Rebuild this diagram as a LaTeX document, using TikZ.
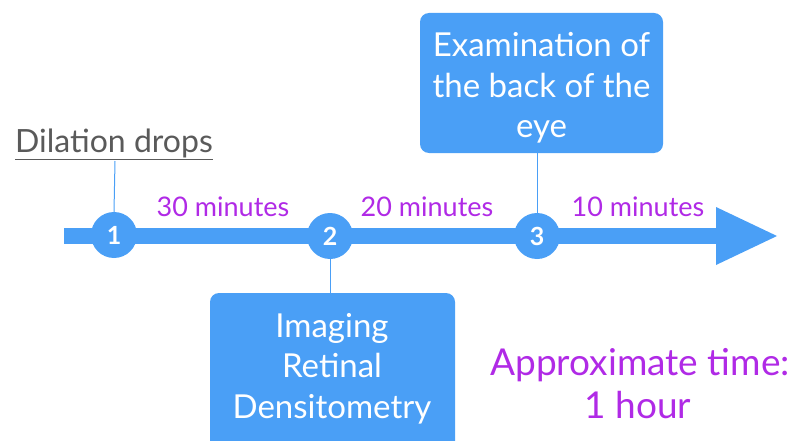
\documentclass[tikz,border=0pt]{standalone}
\usepackage{fontspec}
\setmainfont{Lato}
\definecolor{tblue}{HTML}{4A9FF6}
\definecolor{tpurple}{HTML}{B02AE6}
\definecolor{tgray}{HTML}{5A5A5A}
\tikzset{
  stepcirc/.style={circle, fill=tblue, minimum size=46pt, inner sep=0pt, text=white, font=\fontsize{25}{27}\selectfont\bfseries},
  bluebox/.style={fill=tblue, rounded corners=9pt, inner sep=0pt},
  boxtext/.style={text=white, align=center, inner sep=0pt, font=\fontsize{33}{41}\selectfont},
  durlabel/.style={text=tpurple, font=\fontsize{27}{30}\selectfont},
  link/.style={draw=tblue, line width=1pt}
}
\begin{document}
\begin{tikzpicture}[x=1pt,y=-1pt]
\useasboundingbox (0,0) rectangle (792,441);
% main arrow
\fill[tblue] (64,227.5) rectangle (722,243.5);
\fill[tblue] (716,207) -- (777,236) -- (716,265) -- cycle;
% step circles
\node[stepcirc] (c1) at (114,235) {1};
\node[stepcirc] (c2) at (330,236) {2};
\node[stepcirc] (c3) at (537,236) {3};
% dilation drops
\node[text=tgray, font=\fontsize{32}{34}\selectfont, inner sep=0pt, anchor=base] (dil) at (114,152) {\underline{Dilation drops}};
\coordinate (dilb) at (115,161);
\draw[link] (dilb) -- (c1.north);
% durations
\node[durlabel, anchor=base] (d1) at (223,216) {30 minutes};
\node[durlabel, anchor=base] (d2) at (427,216) {20 minutes};
\node[durlabel, anchor=base] (d3) at (638,216) {10 minutes};
% box 3
\node[bluebox, minimum width=243pt, minimum height=140pt] (b3) at (541.5,83) {};
\node[boxtext, anchor=base] (b3a) at (541.5,57) {Examination of};
\node[boxtext, anchor=base] (b3b) at (541.5,98) {the back of the};
\node[boxtext, anchor=base] (b3c) at (541.5,138) {eye};
\draw[link] (b3.south -| c3) -- (c3.north);
% box 2
\node[bluebox, minimum width=245pt, minimum height=160pt] (b2) at (332.5,373) {};
\node[boxtext, anchor=base] (b2a) at (332,337) {Imaging};
\node[boxtext, anchor=base] (b2b) at (332,377) {Retinal};
\node[boxtext, anchor=base] (b2c) at (332,418) {Densitometry};
\draw[link] (c2.south) -- (b2.north -| c2);
% approximate time
\node[text=tpurple, font=\fontsize{37}{42}\selectfont, inner sep=0pt, anchor=base] (approx) at (640,375) {Approximate time:};
\node[text=tpurple, font=\fontsize{37}{42}\selectfont, inner sep=0pt, anchor=base] (hour) at (638,418) {1 hour};
\end{tikzpicture}
\end{document}
